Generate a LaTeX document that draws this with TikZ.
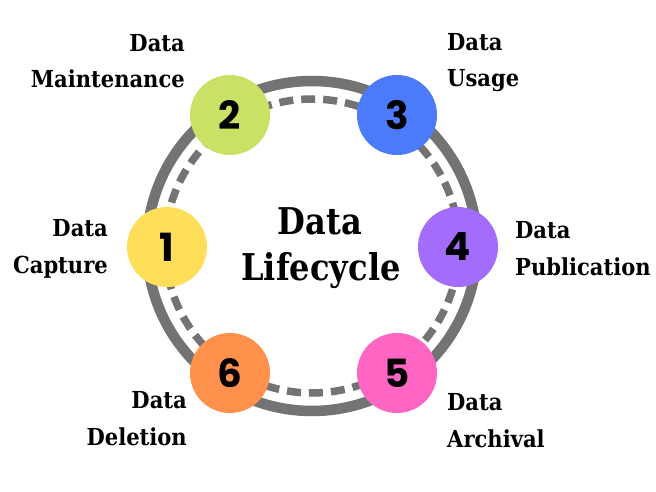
\documentclass[tikz,border=0pt]{standalone}
\usepackage{fontspec}
\setmainfont{DejaVu Serif}
\newfontfamily\titlefont[FakeStretch=0.87]{DejaVu Serif}
\newfontfamily\lblfont[FakeStretch=0.9]{DejaVu Serif}
\newfontfamily\numfont{Poppins}
\definecolor{ringgray}{HTML}{737373}
\definecolor{cA}{HTML}{FFDE59}
\definecolor{cB}{HTML}{C9E265}
\definecolor{cC}{HTML}{4B7BFA}
\definecolor{cD}{HTML}{A36CFB}
\definecolor{cE}{HTML}{FF66C4}
\definecolor{cF}{HTML}{FF914D}
\tikzset{
  stage/.style={circle, minimum size=80bp, inner sep=0pt, fill=#1,
    font=\numfont\bfseries\fontsize{39}{39}\selectfont, text=black},
  lbl/.style={inner sep=0pt, font=\lblfont\bfseries\fontsize{23.5}{37}\selectfont},
  title/.style={inner sep=0pt, font=\titlefont\bfseries\fontsize{37}{45}\selectfont, align=center}
}
\begin{document}
\begin{tikzpicture}[x=1bp,y=-1bp]
\useasboundingbox (0,0) rectangle (656,492);
\fill[white] (0,0) rectangle (656,492);
\coordinate (c) at (312,246);
\draw[ringgray, line width=10.5bp] (c) circle[radius=165];
\draw[ringgray, line width=7.5bp, dash pattern=on 14bp off 8bp] (c) circle[radius=147];
\node[stage=cA] (n1) at (167,247) {1};
\node[stage=cB] (n2) at (230,115) {2};
\node[stage=cC] (n3) at (397,115) {3};
\node[stage=cD] (n4) at (458,247) {4};
\node[stage=cE] (n5) at (397,373) {5};
\node[stage=cF] (n6) at (230,373) {6};
\node[title, anchor=base] (t1) at (320,235) {Data};
\node[title, anchor=base] (t2) at (321,280) {Lifecycle};
\node[lbl, align=right, anchor=base east] (l2) at (185,88) {Data\\Maintenance};
\node[lbl, align=left, anchor=base west] (l3) at (447,87) {Data\\Usage};
\node[lbl, align=left, anchor=base west] (l4) at (515,275) {Data\\Publication};
\node[lbl, align=right, anchor=base east] (l1) at (108,273) {Data\\Capture};
\node[lbl, align=right, anchor=base east] (l6) at (187,445) {Data\\Deletion};
\node[lbl, align=left, anchor=base west] (l5) at (447,447) {Data\\Archival};
\end{tikzpicture}
\end{document}
